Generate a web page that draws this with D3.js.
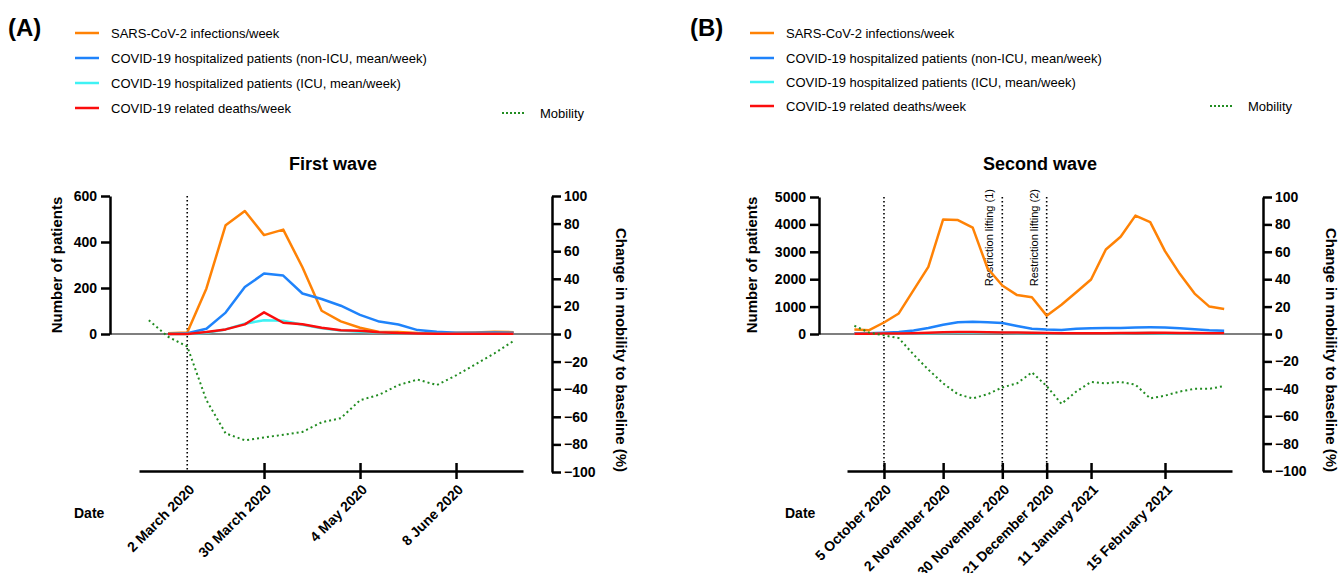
<!DOCTYPE html>
<html>
<head>
<meta charset="utf-8">
<script src="https://cdn.jsdelivr.net/npm/d3@7"></script>
<style>
  body { margin: 0; background: #fff; }
  svg { display: block; font-family: "Liberation Sans", Arial, sans-serif; }
</style>
</head>
<body>
<svg width="1339" height="573"></svg>
<script>
// ---- data: first wave (weekly, Mondays) ----
var weeksA = ["2020-02-24", "2020-03-02", "2020-03-09", "2020-03-16", "2020-03-23", "2020-03-30",
  "2020-04-06", "2020-04-13", "2020-04-20", "2020-04-27", "2020-05-04", "2020-05-11", "2020-05-18",
  "2020-05-25", "2020-06-01", "2020-06-08", "2020-06-15", "2020-06-22", "2020-06-29"];
var infectionsA = [3, 7, 198, 473, 535, 430, 454, 290, 101, 55, 27, 9, 9, 4, 3, 5, 7, 10, 8];
var nonIcuA = [0, 3, 23, 93, 204, 263, 254, 176, 152, 123, 83, 54, 41, 17, 10, 5, 5, 6, 5];
var icuA = [0, 0, 5, 20, 45, 60, 58, 40, 25, 15, 10, 6, 3, 2, 1, 1, 1, 1, 1];
var deathsA = [0, 0, 9, 20, 42, 94, 49, 42, 27, 16, 14, 8, 4, 2, 1, 1, 1, 1, 1];
var mobilityWeeksA = ["2020-02-17"].concat(weeksA);
var mobilityA = [10, -2, -9, -48, -72, -77, -75, -73, -71, -64, -61, -48, -44, -37, -33, -37, -30, -22, -14, -5];
var tickDatesA = ["2020-03-02", "2020-03-30", "2020-05-04", "2020-06-08"];
var tickLabelsA = ["2 March 2020", "30 March 2020", "4 May 2020", "8 June 2020"];
var eventDatesA = ["2020-03-02"];
var eventLabelsA = [""];
var leftTicksA = [0, 200, 400, 600];

// ---- data: second wave ----
var weeksB = ["2020-09-21", "2020-09-28", "2020-10-05", "2020-10-12", "2020-10-19", "2020-10-26",
  "2020-11-02", "2020-11-09", "2020-11-16", "2020-11-23", "2020-11-30", "2020-12-07", "2020-12-14",
  "2020-12-21", "2020-12-28", "2021-01-04", "2021-01-11", "2021-01-18", "2021-01-25", "2021-02-01",
  "2021-02-08", "2021-02-15", "2021-02-22", "2021-03-01", "2021-03-08", "2021-03-15"];
var infectionsB = [160, 140, 420, 750, 1600, 2450, 4180, 4160, 3880, 2400, 1770, 1420, 1340, 670,
  1070, 1525, 1990, 3085, 3550, 4320, 4085, 3025, 2195, 1475, 1000, 915];
var nonIcuB = [30, 30, 45, 70, 130, 220, 340, 430, 450, 430, 400, 290, 190, 160, 150, 195, 210, 215,
  220, 240, 245, 240, 210, 175, 140, 120];
var icuB = [5, 5, 8, 12, 18, 25, 35, 45, 50, 50, 45, 40, 35, 30, 28, 28, 28, 30, 30, 32, 32, 30, 28, 25, 22, 20];
var deathsB = [10, 10, 15, 20, 30, 45, 60, 75, 70, 60, 55, 55, 45, 35, 30, 30, 30, 30, 35, 40, 45, 50,
  40, 35, 30, 25];
var mobilityWeeksB = weeksB;
var mobilityB = [6, 1, -1, -3, -15, -26, -36, -44, -47, -44, -39, -36, -28, -38, -51, -42, -35, -36,
  -35, -37, -47, -45, -42, -40, -40, -38];
var tickDatesB = ["2020-10-05", "2020-11-02", "2020-11-30", "2020-12-21", "2021-01-11", "2021-02-15"];
var tickLabelsB = ["5 October 2020", "2 November 2020", "30 November 2020", "21 December 2020",
  "11 January 2021", "15 February 2021"];
var eventDatesB = ["2020-10-05", "2020-11-30", "2020-12-21"];
var eventLabelsB = ["", "Restriction lifting (1)", "Restriction lifting (2)"];
var leftTicksB = [0, 1000, 2000, 3000, 4000, 5000];

var rightTicks = [-100, -80, -60, -40, -20, 0, 20, 40, 60, 80, 100];

var seriesNames = ["SARS-CoV-2 infections/week",
  "COVID-19 hospitalized patients (non-ICU, mean/week)",
  "COVID-19 hospitalized patients (ICU, mean/week)",
  "COVID-19 related deaths/week"];
var seriesColors = ["#ff8205", "#1f83fb", "#3ff2f4", "#fb0d0d"];
var mobilityColor = "#218c21";

var parse = d3.timeParse("%Y-%m-%d");
var svg = d3.select("svg");

function drawPanel(p) {
  var g = svg.append("g");

  // scales
  var x = d3.scaleTime().domain(p.xDomain).range([p.x0, p.x1]);
  var yL = d3.scaleLinear().domain([0, p.leftMax]).range([p.yZero, p.yTop]);
  var yR = d3.scaleLinear().domain([-100, 100]).range([2 * p.yZero - p.yTop, p.yTop]);

  // panel letter
  g.append("text").attr("x", p.letterX).attr("y", 36)
    .style("font-size", "24px").style("font-weight", "bold").text(p.letter);

  // legend
  seriesNames.forEach(function(name, i) {
    var ly = p.legendRows[i];
    g.append("line").attr("x1", p.legendX).attr("x2", p.legendX + 24)
      .attr("y1", ly).attr("y2", ly)
      .style("stroke", seriesColors[i]).style("stroke-width", 2.5);
    g.append("text").attr("x", p.legendX + 36).attr("y", ly).attr("dy", "0.35em")
      .style("font-size", "13px").text(name);
  });
  g.append("line").attr("x1", p.mobLegendX).attr("x2", p.mobLegendX + 22)
    .attr("y1", p.mobLegendY).attr("y2", p.mobLegendY)
    .style("stroke", mobilityColor).style("stroke-width", 2).style("stroke-dasharray", "2,2");
  g.append("text").attr("x", p.mobLegendX + 38).attr("y", p.mobLegendY).attr("dy", "0.35em")
    .style("font-size", "13px").text("Mobility");

  // title
  g.append("text").attr("x", p.titleX).attr("y", 170).attr("text-anchor", "middle")
    .style("font-size", "18px").style("font-weight", "bold").text(p.title);

  // zero line
  g.append("line").attr("x1", p.leftX).attr("x2", p.rightX)
    .attr("y1", yL(0)).attr("y2", yL(0))
    .style("stroke", "#7f7f7f").style("stroke-width", 2);

  // event lines
  p.events.forEach(function(d, i) {
    var ex = x(parse(d));
    g.append("line").attr("x1", ex).attr("x2", ex).attr("y1", p.yTop).attr("y2", p.xAxisY)
      .style("stroke", "#000").style("stroke-width", 1.6).style("stroke-dasharray", "1.6,2.4");
    if (p.eventLabels[i]) {
      g.append("text")
        .attr("transform", "translate(" + (ex - 9) + "," + (p.yTop - 8) + ") rotate(-90)")
        .attr("text-anchor", "end")
        .style("font-size", "11px").text(p.eventLabels[i]);
    }
  });

  // data lines
  var line = d3.line()
    .x(function(d) { return x(d.date); })
    .y(function(d) { return yL(d.value); });
  p.series.forEach(function(vals, i) {
    var pts = vals.map(function(v, k) { return { date: parse(p.weeks[k]), value: v }; });
    g.append("path").datum(pts).attr("d", line)
      .style("fill", "none").style("stroke", seriesColors[i])
      .style("stroke-width", 2.5).style("stroke-linejoin", "round");
  });

  // mobility
  var mobLine = d3.line()
    .x(function(d) { return x(d.date); })
    .y(function(d) { return yR(d.value); });
  var mobPts = p.mobility.map(function(v, k) { return { date: parse(p.mobWeeks[k]), value: v }; });
  g.append("path").datum(mobPts).attr("d", mobLine)
    .style("fill", "none").style("stroke", mobilityColor)
    .style("stroke-width", 2).style("stroke-dasharray", "2,3");

  // left axis
  var left = g.append("g").attr("transform", "translate(" + p.leftX + ",0)")
    .call(d3.axisLeft(yL).tickValues(p.leftTicks).tickFormat(d3.format("d"))
      .tickSize(9).tickSizeOuter(0).tickPadding(4));
  // right axis
  var right = g.append("g").attr("transform", "translate(" + p.rightX + ",0)")
    .call(d3.axisRight(yR).tickValues(rightTicks).tickSize(9).tickSizeOuter(0).tickPadding(3));
  // x axis
  var tickDates = p.tickDates.map(parse);
  var bottom = g.append("g").attr("transform", "translate(0," + p.xAxisY + ")")
    .call(d3.axisBottom(x).tickValues(tickDates).tickSizeOuter(0)
      .tickFormat(function(d, i) { return p.tickLabels[i]; }));
  bottom.selectAll(".tick line").attr("y1", -8).attr("y2", 8)
    .style("opacity", function(d, i) { return p.hideFirstTick && i === 0 ? 0 : 1; });
  bottom.selectAll(".tick text")
    .attr("x", 0).attr("y", 0).attr("dy", "0.35em")
    .attr("transform", "translate(4,16) rotate(-45)")
    .attr("text-anchor", "end");

  [left, right, bottom].forEach(function(ax) {
    ax.selectAll("path, line").style("stroke", "#000").style("stroke-width", 2.5);
    ax.selectAll("text").style("font-size", "14px").style("font-weight", "bold")
      .style("fill", "#000").style("font-family", "'Liberation Sans', Arial, sans-serif");
  });

  // axis titles
  g.append("text")
    .attr("transform", "translate(" + p.leftLabelX + ",265) rotate(-90)")
    .attr("text-anchor", "middle").attr("dy", "0.35em")
    .style("font-size", "15px").style("font-weight", "bold").text("Number of patients");
  g.append("text")
    .attr("transform", "translate(" + p.rightLabelX + ",350) rotate(90)")
    .attr("text-anchor", "middle").attr("dy", "0.35em")
    .style("font-size", "15px").style("font-weight", "bold").text("Change in mobility to baseline (%)");
  g.append("text").attr("x", p.dateLabelX).attr("y", 518)
    .style("font-size", "14px").style("font-weight", "bold").text("Date");
}

drawPanel({
  letter: "(A)", letterX: 8, title: "First wave", titleX: 333,
  legendX: 75, legendRows: [33, 58, 83, 108], mobLegendX: 502, mobLegendY: 113,
  xDomain: [new Date(2020, 1, 13, 10), new Date(2020, 6, 2, 10)], x0: 139, x1: 523,
  leftX: 110, rightX: 552, yTop: 196, yZero: 334, xAxisY: 471, leftMax: 600,
  leftTicks: leftTicksA, tickDates: tickDatesA, tickLabels: tickLabelsA, hideFirstTick: true,
  events: eventDatesA, eventLabels: eventLabelsA,
  weeks: weeksA, series: [infectionsA, nonIcuA, icuA, deathsA],
  mobWeeks: mobilityWeeksA, mobility: mobilityA,
  leftLabelX: 57, rightLabelX: 621, dateLabelX: 74
});

drawPanel({
  letter: "(B)", letterX: 690, title: "Second wave", titleX: 1040,
  legendX: 750, legendRows: [33, 58, 82, 106], mobLegendX: 1210, mobLegendY: 106,
  xDomain: [new Date(2020, 8, 17, 12), new Date(2021, 2, 18, 17)], x0: 847, x1: 1232,
  leftX: 819, rightX: 1263, yTop: 197, yZero: 334, xAxisY: 471, leftMax: 5000,
  leftTicks: leftTicksB, tickDates: tickDatesB, tickLabels: tickLabelsB, hideFirstTick: false,
  events: eventDatesB, eventLabels: eventLabelsB,
  weeks: weeksB, series: [infectionsB, nonIcuB, icuB, deathsB],
  mobWeeks: mobilityWeeksB, mobility: mobilityB,
  leftLabelX: 752, rightLabelX: 1331, dateLabelX: 785
});
</script>
</body>
</html>
